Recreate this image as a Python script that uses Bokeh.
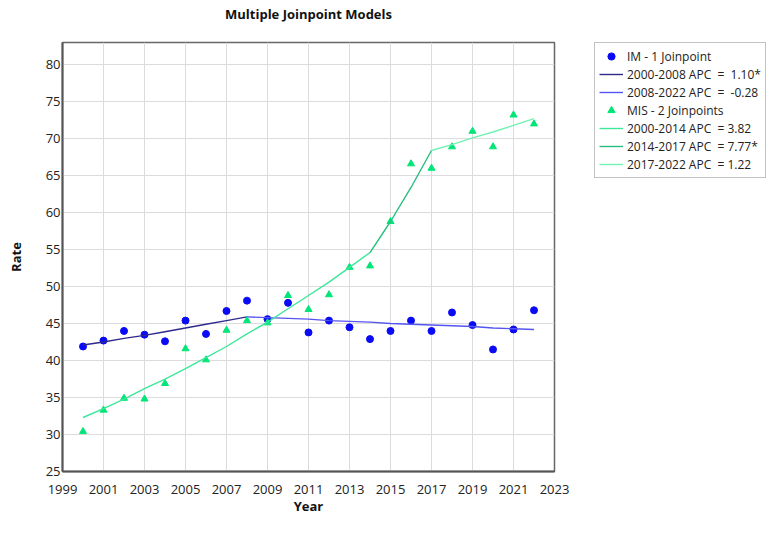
from bokeh.plotting import figure
from bokeh.models import Legend, LegendItem, FixedTicker, Range1d, Title
from bokeh.layouts import row
from bokeh.embed import file_html
from bokeh.resources import INLINE

# ---- data ----
years = list(range(2000, 2023))
im_rate = [41.9, 42.7, 44.0, 43.5, 42.6, 45.4, 43.6, 46.7, 48.1, 45.6, 47.8, 43.8,
           45.4, 44.5, 42.9, 44.0, 45.4, 44.0, 46.5, 44.8, 41.5, 44.2, 46.8]
mis_rate = [30.4, 33.3, 34.9, 34.8, 36.9, 41.6, 40.1, 44.1, 45.4, 45.1, 48.8, 46.9,
            48.9, 52.6, 52.8, 58.8, 66.6, 66.0, 68.9, 71.0, 68.9, 73.2, 72.0]
im_fit = [42.1, 42.5, 43.0, 43.4, 43.9, 44.4, 44.9, 45.4, 45.9, 45.8, 45.7, 45.6,
          45.4, 45.3, 45.2, 45.0, 44.9, 44.8, 44.7, 44.6, 44.4, 44.3, 44.2]
mis_fit = [32.3, 33.5, 34.8, 36.2, 37.5, 38.9, 40.4, 41.9, 43.6, 45.2, 47.0, 48.8,
           50.6, 52.6, 54.6, 58.8, 63.4, 68.4, 69.2, 70.1, 70.9, 71.8, 72.7]
im_joinpoints = [2000, 2008, 2022]
mis_joinpoints = [2000, 2014, 2017, 2022]
im_labels = ["IM - 1 Joinpoint", "2000-2008 APC  =  1.10*", "2008-2022 APC  =  -0.28"]
mis_labels = ["MIS - 2 Joinpoints", "2000-2014 APC  = 3.82", "2014-2017 APC  = 7.77*",
              "2017-2022 APC  = 1.22"]
x_ticks = list(range(1999, 2024, 2))
y_ticks = list(range(25, 81, 5))

FONT = "Open Sans"
W1, W2, H = 584, 183, 518

p = figure(width=W1, height=H, output_backend="svg", toolbar_location=None,
           x_range=Range1d(1999, 2023), y_range=Range1d(25, 83),
           min_border_left=62, min_border_right=W1 - 554, min_border_top=42,
           min_border_bottom=47, title="Multiple Joinpoint Models")

# blank spacer between the title and the plot frame
p.add_layout(Title(text=" ", text_font=FONT, text_font_size="13px", standoff=0), "above")

p.title.align = "center"
p.title.vertical_align = "bottom"
p.title.text_font = FONT
p.title.text_font_size = "13px"
p.title.text_font_style = "bold"
p.title.text_color = "#111111"
p.title.standoff = 0

p.xaxis.ticker = FixedTicker(ticks=x_ticks)
p.yaxis.ticker = FixedTicker(ticks=y_ticks)
for ax in (p.xaxis[0], p.yaxis[0]):
    ax.major_label_text_font = FONT
    ax.major_label_text_font_size = "13px"
    ax.major_label_text_color = "#222222"
    ax.axis_label_text_font = FONT
    ax.axis_label_text_font_size = "13px"
    ax.axis_label_text_font_style = "bold"
    ax.axis_label_text_color = "#111111"
    ax.major_tick_out = 0
    ax.major_tick_in = 0
    ax.minor_tick_out = 0
    ax.minor_tick_in = 0
    ax.axis_line_color = "#555555"
    ax.axis_line_width = 2
p.xaxis.axis_label = "Year"
p.yaxis.axis_label = "Rate"
p.xaxis.major_label_standoff = 13
p.xaxis.axis_label_standoff = 0
p.yaxis.major_label_standoff = 2
p.yaxis.axis_label_standoff = 18

p.xgrid.grid_line_color = "#dcdcdc"
p.ygrid.grid_line_color = "#dcdcdc"
p.outline_line_color = "#666666"
p.outline_line_width = 1.5

def seg(xs, ys, a, b):
    i0, i1 = xs.index(a), xs.index(b)
    return xs[i0:i1 + 1], ys[i0:i1 + 1]

im_col_pts = "#0a0af5"
mis_col_pts = "#00e676"
im_cols = ["#2e2a8c", "#5555f2"]
mis_cols = ["#3de79b", "#26bf7f", "#72f2b2"]

p.scatter(years, im_rate, marker="circle", size=7, color=im_col_pts)
for k in range(len(im_joinpoints) - 1):
    xs, ys = seg(years, im_fit, im_joinpoints[k], im_joinpoints[k + 1])
    p.line(xs, ys, line_color=im_cols[k], line_width=1.4)
p.scatter(years, mis_rate, marker="triangle", size=7, color=mis_col_pts)
for k in range(len(mis_joinpoints) - 1):
    xs, ys = seg(years, mis_fit, mis_joinpoints[k], mis_joinpoints[k + 1])
    p.line(xs, ys, line_color=mis_cols[k], line_width=1.4)

# ---- legend panel: same series drawn out of view, legend swatches only ----
p2 = figure(width=W2, height=H, output_backend="svg", toolbar_location=None,
            x_axis_type=None, y_axis_type=None, min_border=0,
            min_border_left=0, min_border_right=0, min_border_top=0, min_border_bottom=0,
            x_range=Range1d(0, 1), y_range=Range1d(0, 1))
p2.outline_line_color = None
p2.grid.visible = False

items = []
r = p2.scatter(years, im_rate, marker="circle", size=6, color=im_col_pts)
items.append(LegendItem(label=im_labels[0], renderers=[r]))
for k in range(len(im_joinpoints) - 1):
    xs, ys = seg(years, im_fit, im_joinpoints[k], im_joinpoints[k + 1])
    r = p2.line(xs, ys, line_color=im_cols[k], line_width=1.4)
    items.append(LegendItem(label=im_labels[k + 1], renderers=[r]))
r = p2.scatter(years, mis_rate, marker="triangle", size=6, color=mis_col_pts)
items.append(LegendItem(label=mis_labels[0], renderers=[r]))
for k in range(len(mis_joinpoints) - 1):
    xs, ys = seg(years, mis_fit, mis_joinpoints[k], mis_joinpoints[k + 1])
    r = p2.line(xs, ys, line_color=mis_cols[k], line_width=1.4)
    items.append(LegendItem(label=mis_labels[k + 1], renderers=[r]))

legend = Legend(items=items, location=(10, 293), margin=0, padding=4, spacing=0,
                glyph_width=24, glyph_height=18, label_height=18, label_standoff=4,
                label_text_font=FONT, label_text_font_size="12px",
                label_text_color="#222222", border_line_color="#888888",
                border_line_width=1, background_fill_color="white")
p2.add_layout(legend, "center")

open("out.html", "w").write(file_html(row(p, p2), INLINE))
